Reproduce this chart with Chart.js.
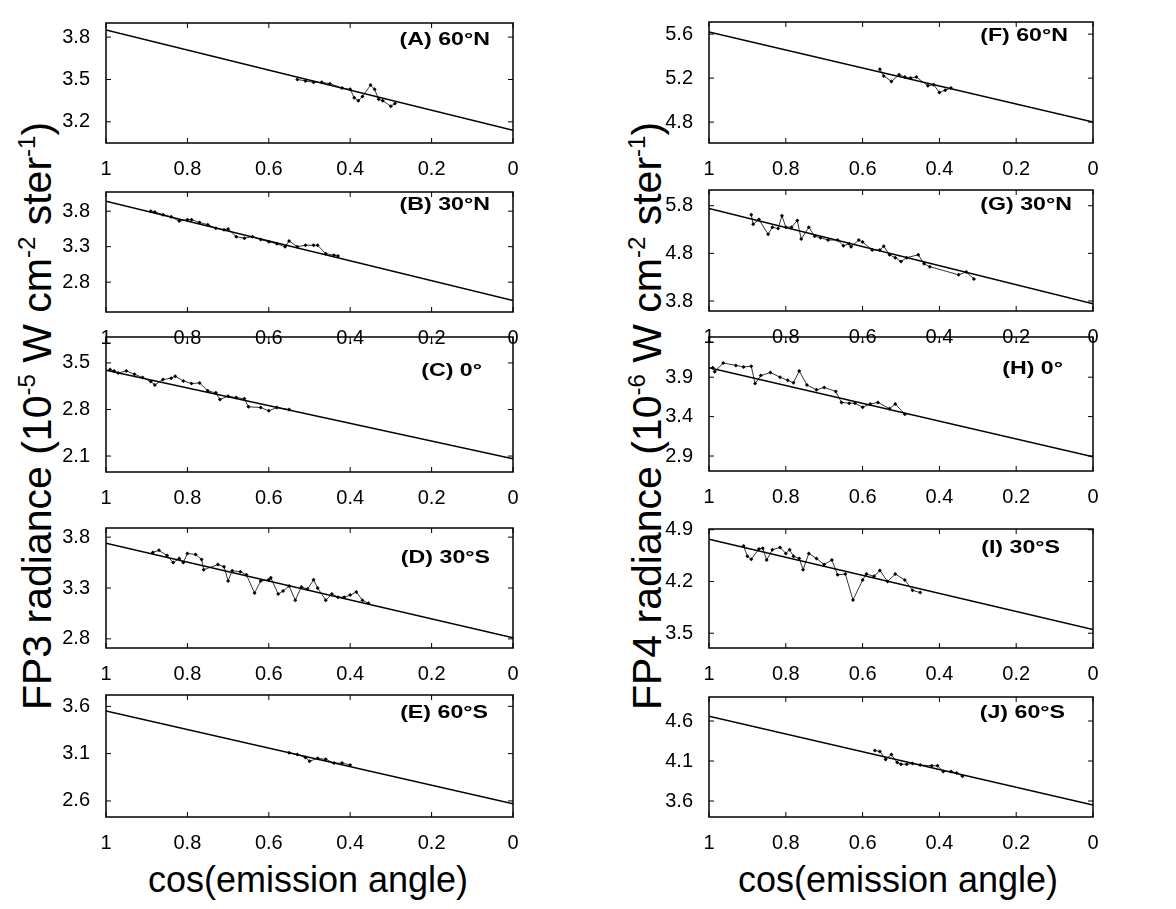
<!DOCTYPE html>
<html>
<head>
<meta charset="utf-8">
<script src="https://cdn.jsdelivr.net/npm/chart.js@4.4.1/dist/chart.umd.min.js"></script>
<style>
  body { margin: 0; background: #fff; }
  #wrap { position: relative; width: 1176px; height: 909px; background: #fff; overflow: hidden;
          font-family: "Liberation Sans", Arial, Helvetica, sans-serif; color: #000; }
  .panel { position: absolute; }
  .ytitle { position: absolute; white-space: nowrap; font-size: 41px; line-height: 41px;
            transform: translate(-50%, -50%) rotate(-90deg); }
  .ytitle sup { font-size: 24px; vertical-align: 16px; line-height: 0; }
  .xtitle { position: absolute; white-space: nowrap; font-size: 36px; line-height: 36px;
            transform: translateX(-50%); }
</style>
</head>
<body>
<div id="wrap">
  <div class="ytitle" style="left:37px; top:416px">FP3 radiance (10<sup>-5</sup> W cm<sup>-2</sup> ster<sup>-1</sup>)</div>
  <div class="ytitle" style="left:647px; top:416px">FP4 radiance (10<sup>-6</sup> W cm<sup>-2</sup> ster<sup>-1</sup>)</div>
  <div class="xtitle" style="left:308px; top:862px">cos(emission angle)</div>
  <div class="xtitle" style="left:898px; top:862px">cos(emission angle)</div>
</div>
<script>
// x = cos(emission angle); fit lines given by their values at mu = 1 and mu = 0
const fitMu = [1, 0];

// FP3 panels
const muA = [0.53, 0.51, 0.49, 0.47, 0.45, 0.42, 0.40, 0.39, 0.38, 0.37, 0.35, 0.34, 0.33, 0.32, 0.30, 0.29];
const radA = [3.50, 3.49, 3.48, 3.48, 3.47, 3.44, 3.43, 3.37, 3.35, 3.38, 3.46, 3.43, 3.36, 3.35, 3.31, 3.33];
const fitA = [3.85, 3.14];
const ticksA = [3.2, 3.5, 3.8];

const muB = [0.89, 0.88, 0.86, 0.84, 0.82, 0.80, 0.79, 0.77, 0.75, 0.73, 0.71, 0.70, 0.68, 0.66, 0.64, 0.62, 0.60, 0.58, 0.56, 0.55, 0.53, 0.51, 0.49, 0.48, 0.46, 0.44, 0.43];
const radB = [3.80, 3.79, 3.75, 3.72, 3.66, 3.68, 3.68, 3.64, 3.61, 3.56, 3.54, 3.55, 3.44, 3.42, 3.44, 3.40, 3.37, 3.34, 3.30, 3.38, 3.30, 3.32, 3.32, 3.32, 3.20, 3.18, 3.17];
const fitB = [3.94, 2.54];
const ticksB = [2.8, 3.3, 3.8];

const muC = [0.99, 0.98, 0.97, 0.95, 0.93, 0.91, 0.89, 0.88, 0.86, 0.84, 0.83, 0.81, 0.79, 0.77, 0.75, 0.73, 0.72, 0.70, 0.68, 0.66, 0.65, 0.62, 0.60, 0.58, 0.55];
const radC = [3.40, 3.38, 3.35, 3.38, 3.33, 3.28, 3.22, 3.17, 3.25, 3.27, 3.30, 3.23, 3.19, 3.20, 3.08, 3.05, 2.95, 3.00, 2.98, 2.96, 2.84, 2.83, 2.78, 2.83, 2.80];
const fitC = [3.39, 2.06];
const ticksC = [2.1, 2.8, 3.5];

const muD = [0.885, 0.87, 0.85, 0.835, 0.82, 0.81, 0.80, 0.78, 0.765, 0.76, 0.725, 0.71, 0.70, 0.69, 0.67, 0.655, 0.635, 0.62, 0.60, 0.595, 0.577, 0.565, 0.55, 0.535, 0.52, 0.505, 0.49, 0.48, 0.46, 0.445, 0.43, 0.415, 0.40, 0.385, 0.37, 0.355];
const radD = [3.65, 3.67, 3.62, 3.55, 3.59, 3.55, 3.64, 3.63, 3.58, 3.48, 3.53, 3.51, 3.37, 3.47, 3.46, 3.43, 3.25, 3.37, 3.38, 3.40, 3.24, 3.27, 3.32, 3.18, 3.31, 3.29, 3.38, 3.30, 3.18, 3.24, 3.21, 3.21, 3.23, 3.26, 3.18, 3.15];
const fitD = [3.74, 2.81];
const ticksD = [2.8, 3.3, 3.8];

const muE = [0.55, 0.53, 0.51, 0.50, 0.48, 0.46, 0.44, 0.42, 0.40];
const radE = [3.11, 3.09, 3.06, 3.02, 3.05, 3.04, 3.00, 3.00, 2.98];
const fitE = [3.55, 2.57];
const ticksE = [2.6, 3.1, 3.6];

// FP4 panels
const muF = [0.555, 0.545, 0.525, 0.505, 0.49, 0.475, 0.46, 0.43, 0.415, 0.40, 0.385, 0.37];
const radF = [5.28, 5.22, 5.17, 5.23, 5.21, 5.20, 5.21, 5.13, 5.14, 5.07, 5.09, 5.11];
const fitF = [5.62, 4.80];
const ticksF = [4.8, 5.2, 5.6];

const muG = [0.89, 0.885, 0.87, 0.846, 0.835, 0.82, 0.81, 0.80, 0.785, 0.77, 0.76, 0.74, 0.725, 0.71, 0.69, 0.665, 0.65, 0.635, 0.63, 0.61, 0.60, 0.575, 0.555, 0.545, 0.53, 0.515, 0.50, 0.485, 0.455, 0.44, 0.425, 0.35, 0.33, 0.31];
const radG = [5.61, 5.41, 5.51, 5.20, 5.35, 5.32, 5.59, 5.35, 5.35, 5.49, 5.10, 5.35, 5.16, 5.13, 5.08, 5.08, 4.96, 5.00, 4.94, 5.08, 5.04, 4.87, 4.87, 4.95, 4.77, 4.71, 4.63, 4.71, 4.77, 4.58, 4.52, 4.35, 4.41, 4.26];
const fitG = [5.74, 3.74];
const ticksG = [3.8, 4.8, 5.8];

const muH = [0.99, 0.985, 0.963, 0.93, 0.91, 0.89, 0.88, 0.865, 0.84, 0.815, 0.795, 0.78, 0.765, 0.745, 0.72, 0.70, 0.67, 0.655, 0.635, 0.62, 0.60, 0.58, 0.56, 0.53, 0.515, 0.49];
const radH = [4.02, 3.97, 4.08, 4.05, 4.03, 4.04, 3.82, 3.92, 3.96, 3.90, 3.86, 3.83, 3.98, 3.80, 3.74, 3.77, 3.72, 3.58, 3.57, 3.57, 3.52, 3.56, 3.58, 3.50, 3.56, 3.43];
const fitH = [4.02, 2.89];
const ticksH = [2.9, 3.4, 3.9];

const muI = [0.91, 0.90, 0.89, 0.87, 0.86, 0.85, 0.835, 0.815, 0.80, 0.79, 0.78, 0.765, 0.755, 0.74, 0.72, 0.70, 0.68, 0.665, 0.645, 0.625, 0.60, 0.59, 0.57, 0.555, 0.535, 0.515, 0.49, 0.47, 0.45];
const radI = [4.68, 4.54, 4.50, 4.64, 4.65, 4.49, 4.63, 4.66, 4.58, 4.63, 4.54, 4.51, 4.36, 4.58, 4.51, 4.43, 4.49, 4.29, 4.30, 3.95, 4.22, 4.30, 4.27, 4.35, 4.20, 4.30, 4.22, 4.08, 4.05];
const fitI = [4.77, 3.55];
const ticksI = [3.5, 4.2, 4.9];

const muJ = [0.568, 0.555, 0.54, 0.525, 0.51, 0.50, 0.485, 0.47, 0.45, 0.42, 0.405, 0.39, 0.37, 0.355, 0.34];
const radJ = [4.23, 4.22, 4.12, 4.18, 4.08, 4.06, 4.06, 4.07, 4.05, 4.04, 4.04, 3.97, 3.97, 3.95, 3.91];
const fitJ = [4.66, 3.55];
const ticksJ = [3.6, 4.1, 4.6];

const xTicksStep = 0.2;

const panels = [
  { name: "(A) 60°N", mu: muA, rad: radA, fit: fitA, yTicks: ticksA, yMin: 3.05, yMax: 3.90 },
  { name: "(B) 30°N", mu: muB, rad: radB, fit: fitB, yTicks: ticksB, yMin: 2.38, yMax: 4.07 },
  { name: "(C) 0°",   mu: muC, rad: radC, fit: fitC, yTicks: ticksC, yMin: 1.86, yMax: 3.89 },
  { name: "(D) 30°S", mu: muD, rad: radD, fit: fitD, yTicks: ticksD, yMin: 2.71, yMax: 3.89 },
  { name: "(E) 60°S", mu: muE, rad: radE, fit: fitE, yTicks: ticksE, yMin: 2.43, yMax: 3.72 },
  { name: "(F) 60°N", mu: muF, rad: radF, fit: fitF, yTicks: ticksF, yMin: 4.61, yMax: 5.71 },
  { name: "(G) 30°N", mu: muG, rad: radG, fit: fitG, yTicks: ticksG, yMin: 3.59, yMax: 6.13 },
  { name: "(H) 0°",   mu: muH, rad: radH, fit: fitH, yTicks: ticksH, yMin: 2.71, yMax: 4.41 },
  { name: "(I) 30°S", mu: muI, rad: radI, fit: fitI, yTicks: ticksI, yMin: 3.30, yMax: 4.91 },
  { name: "(J) 60°S", mu: muJ, rad: radJ, fit: fitJ, yTicks: ticksJ, yMin: 3.40, yMax: 4.90 }
];

// plot areas on the page: [left, top, right, bottom], and where the label sits
const boxes = [
  [106, 13, 513, 143], [106, 182, 513, 312], [106, 327, 513, 472], [106, 518, 513, 648], [106, 685, 513, 817],
  [709, 12, 1093, 143], [709, 180, 1093, 311], [709, 327, 1093, 471], [709, 519, 1093, 648], [709, 687, 1093, 817]
];
const labelPos = [
  [23, 22], [23, 18], [31, 39], [23, 35], [25, 23],
  [25, 19], [21, 20], [30, 37], [33, 24], [28, 21]
];

const AXIS_W = 80, AXIS_H = 36, PAD_T = 10, PAD_R = 16;
const FONT = "'Liberation Sans', Arial, Helvetica, sans-serif";

const framePlugin = {
  id: "frame",
  afterDraw(chart, args, opts) {
    const { ctx, chartArea: a, scales: { x, y } } = chart;
    ctx.save();
    ctx.strokeStyle = "#000";
    ctx.lineWidth = 1.5;
    ctx.strokeRect(a.left, a.top, a.right - a.left, a.bottom - a.top);
    ctx.lineWidth = 1;
    ctx.beginPath();
    x.ticks.forEach(t => {
      const px = x.getPixelForValue(t.value);
      ctx.moveTo(px, a.bottom); ctx.lineTo(px, a.bottom - 5);
      ctx.moveTo(px, a.top); ctx.lineTo(px, a.top + 5);
    });
    y.ticks.forEach(t => {
      const py = y.getPixelForValue(t.value);
      ctx.moveTo(a.left, py); ctx.lineTo(a.left + 5, py);
      ctx.moveTo(a.right, py); ctx.lineTo(a.right - 5, py);
    });
    ctx.stroke();
    // panel label, a little wider than tall like the scanned original
    ctx.fillStyle = "#000";
    ctx.font = "bold 19px " + FONT;
    ctx.textAlign = "right";
    ctx.textBaseline = "alphabetic";
    ctx.translate(a.right - opts.dx, a.top + opts.dy);
    ctx.scale(1.22, 1);
    ctx.fillText(opts.text, 0, 0);
    ctx.restore();
  }
};

const wrap = document.getElementById("wrap");

panels.forEach((p, i) => {
  const [l, t, r, b] = boxes[i];
  const div = document.createElement("div");
  div.className = "panel";
  const w = (r - l) + AXIS_W + PAD_R;
  const h = (b - t) + PAD_T + AXIS_H;
  div.style.left = (l - AXIS_W) + "px";
  div.style.top = (t - PAD_T) + "px";
  div.style.width = w + "px";
  div.style.height = h + "px";
  const canvas = document.createElement("canvas");
  canvas.width = w;
  canvas.height = h;
  div.appendChild(canvas);
  wrap.appendChild(div);

  new Chart(canvas.getContext("2d"), {
    type: "line",
    data: {
      datasets: [
        {
          data: fitMu.map((m, k) => ({ x: m, y: p.fit[k] })),
          borderColor: "#000",
          borderWidth: 1.5,
          pointRadius: 0,
          fill: false
        },
        {
          data: p.mu.map((m, k) => ({ x: m, y: p.rad[k] })),
          borderColor: "#000",
          borderWidth: 0.8,
          pointStyle: "rectRot",
          pointRadius: 2,
          pointBackgroundColor: "#000",
          pointBorderColor: "#000",
          pointBorderWidth: 0,
          fill: false
        }
      ]
    },
    options: {
      responsive: false,
      animation: false,
      devicePixelRatio: 1,
      layout: { padding: { top: PAD_T, right: PAD_R, left: 0, bottom: 0 } },
      plugins: {
        legend: { display: false },
        tooltip: { enabled: false },
        frame: { text: p.name, dx: labelPos[i][0], dy: labelPos[i][1] }
      },
      scales: {
        x: {
          type: "linear",
          reverse: true,
          min: 0,
          max: 1,
          grid: { display: false },
          border: { display: false },
          ticks: {
            stepSize: xTicksStep,
            padding: 6,
            color: "#000",
            font: { size: 20, family: FONT },
            maxRotation: 0,
            callback: v => String(Number(v.toFixed(1)))
          },
          afterFit: s => { s.height = AXIS_H; }
        },
        y: {
          type: "linear",
          min: p.yMin,
          max: p.yMax,
          grid: { display: false },
          border: { display: false },
          afterBuildTicks: s => { s.ticks = p.yTicks.map(v => ({ value: v })); },
          ticks: {
            padding: 8,
            color: "#000",
            font: { size: 20, family: FONT },
            callback: v => v.toFixed(1)
          },
          afterFit: s => { s.width = AXIS_W; }
        }
      }
    },
    plugins: [framePlugin]
  });
});
</script>
</body>
</html>
